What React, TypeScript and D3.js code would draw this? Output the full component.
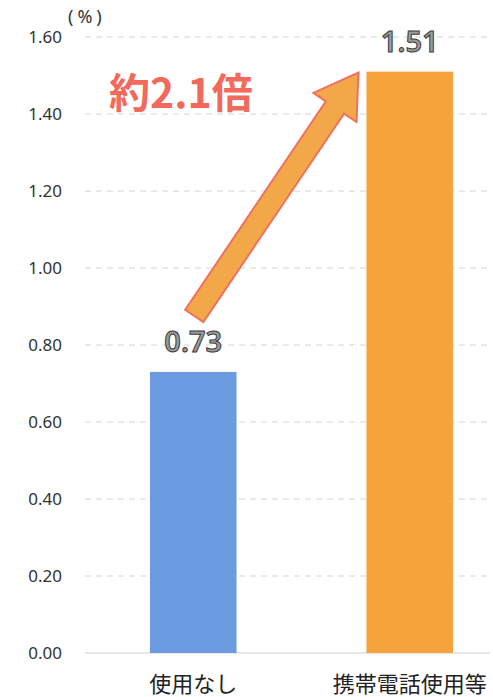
import { useEffect, useRef } from 'react';
import * as d3 from 'd3';

const categories = ['使用なし', '携帯電話使用等'];
const values = [0.73, 1.51];
const barColors = ['#6b9be0', '#f5a43c'];
const yTicks = [0, 0.2, 0.4, 0.6, 0.8, 1.0, 1.2, 1.4, 1.6];
const ratioLabel = '約2.1倍';

const W = 493;
const H = 697;

export default function App() {
  const svgRef = useRef<SVGSVGElement>(null);

  useEffect(() => {
    if (!svgRef.current) return;
    const svg = d3.select(svgRef.current);
    svg.selectAll('*').remove();

    const left = 85;
    const right = 490;

    const x = d3.scaleBand<string>()
      .domain(categories)
      .range([85, 518])
      .paddingInner(0.6)
      .paddingOuter(0.3);

    const y = d3.scaleLinear().domain([0, 1.6]).range([653, 37]);

    svg.append('rect').attr('width', W).attr('height', H).attr('fill', '#fff');

    // grid
    svg.append('g')
      .selectAll('line')
      .data(yTicks.filter(t => t > 0))
      .join('line')
      .attr('x1', left)
      .attr('x2', right)
      .attr('y1', d => y(d))
      .attr('y2', d => y(d))
      .attr('stroke', '#d4d4d4')
      .attr('stroke-width', 1)
      .attr('stroke-dasharray', '6,5');

    // baseline
    svg.append('line')
      .attr('x1', left).attr('x2', right)
      .attr('y1', y(0)).attr('y2', y(0))
      .attr('stroke', '#d0d0d0')
      .attr('stroke-width', 1.2);

    // y tick labels
    svg.append('g')
      .selectAll('text')
      .data(yTicks)
      .join('text')
      .attr('x', 62)
      .attr('y', d => y(d) + 6)
      .attr('text-anchor', 'end')
      .attr('font-family', '"Noto Sans", sans-serif')
      .attr('font-size', 17)
      .attr('fill', '#333')
      .text(d => d3.format('.2f')(d));

    svg.append('text')
      .attr('x', 68)
      .attr('y', 23)
      .attr('font-family', '"Noto Sans", sans-serif')
      .attr('font-size', 18)
      .attr('letter-spacing', 4)
      .attr('fill', '#333')
      .text('(%)');

    // bars
    svg.append('g')
      .selectAll('rect')
      .data(values)
      .join('rect')
      .attr('x', (_, i) => x(categories[i])!)
      .attr('y', d => y(d))
      .attr('width', x.bandwidth())
      .attr('height', d => y(0) - y(d))
      .attr('fill', (_, i) => barColors[i]);

    // value labels
    svg.append('g')
      .selectAll('text')
      .data(values)
      .join('text')
      .attr('x', (_, i) => x(categories[i])! + x.bandwidth() / 2)
      .attr('y', d => y(d) - 20)
      .attr('text-anchor', 'middle')
      .attr('font-family', '"Noto Sans", sans-serif')
      .attr('font-weight', 600)
      .attr('font-size', 29)
      .attr('fill', '#9a9a9a')
      .attr('stroke', '#3c3c3c')
      .attr('stroke-width', 1)
      .text(d => d.toFixed(2));

    // category labels
    svg.append('g')
      .selectAll('text')
      .data(categories)
      .join('text')
      .attr('x', d => x(d)! + x.bandwidth() / 2)
      .attr('y', 692)
      .attr('text-anchor', 'middle')
      .attr('font-family', '"Noto Sans CJK JP", sans-serif')
      .attr('font-size', 22)
      .attr('fill', '#222')
      .text(d => d);

    // arrow from first bar to second bar top
    const x0 = x(categories[0])! + x.bandwidth() / 2;
    const tail: [number, number] = [x0 + 1, y(values[0]) - 56];
    const tip: [number, number] = [x(categories[1])! - 8, y(values[1]) + 1];
    const dx = tip[0] - tail[0];
    const dy = tip[1] - tail[1];
    const len = Math.hypot(dx, dy);
    const ang = (Math.atan2(dy, dx) * 180) / Math.PI;
    const sw = 11; // half shaft width
    const hw = 26; // half head width
    const hl = 42; // head length
    const arrowPts: [number, number][] = [
      [0, -sw], [len - hl, -sw], [len - hl, -hw], [len, 0],
      [len - hl, hw], [len - hl, sw], [0, sw]
    ];
    svg.append('polygon')
      .attr('points', arrowPts.map(p => p.join(',')).join(' '))
      .attr('transform', `translate(${tail[0]},${tail[1]}) rotate(${ang})`)
      .attr('fill', '#f2a848')
      .attr('stroke', '#f07060')
      .attr('stroke-width', 2)
      .attr('stroke-linejoin', 'miter');

    svg.append('text')
      .attr('x', 109)
      .attr('y', 108)
      .attr('font-family', '"Noto Sans CJK JP", sans-serif')
      .attr('font-weight', 'bold')
      .attr('font-size', 41)
      .attr('fill', '#f26a5c')
      .text(ratioLabel);
  }, []);

  return (
    <svg
      ref={svgRef}
      width={W}
      height={H}
      style={{ position: 'absolute', left: 0, top: 0 }}
    />
  );
}
